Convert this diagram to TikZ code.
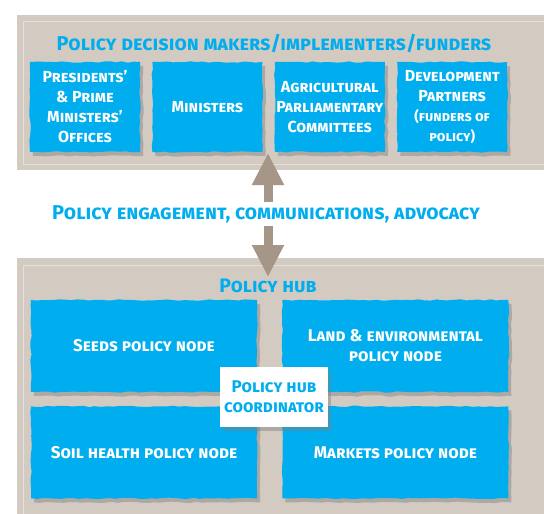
\documentclass[tikz,border=0pt]{standalone}
\usepackage{fontspec}
\setmainfont{Fira Sans}
\usetikzlibrary{positioning,shadows,arrows.meta,decorations.pathmorphing}
\definecolor{hubblue}{HTML}{00AEEF}
\definecolor{panelgray}{HTML}{D3CAC2}
\definecolor{panelline}{HTML}{E6E0DA}
\definecolor{arrowbrown}{HTML}{A69688}
\begin{document}
\begin{tikzpicture}
  [x=1pt,y=-1pt,node distance=12pt,
  panel/.style={fill=panelgray},
  rim/.style={draw=panelline,line width=1pt},
  ragged/.style={decorate,decoration={random steps,segment length=6pt,amplitude=.7pt}},
  actor/.style={fill=hubblue,text=white,minimum width=110pt,minimum height=90pt,
    align=center,inner sep=1pt,ragged,drop shadow={opacity=.45,shadow xshift=3pt,shadow yshift=-4pt},
    font=\bfseries\scshape\fontsize{16}{20}\selectfont},
  hubnode/.style={actor,minimum width=226pt,minimum height=92pt,
    font=\bfseries\scshape\fontsize{17}{20}\selectfont},
  coord/.style={fill=white,text=hubblue,minimum width=108pt,minimum height=60pt,align=center,
    inner sep=1pt,drop shadow={opacity=.45,shadow xshift=3pt,shadow yshift=-4pt},
    font=\bfseries\scshape\fontsize{17}{20}\selectfont},
  heading/.style={text=hubblue,font=\bfseries\scshape\fontsize{20}{22}\selectfont},
  link/.style={arrowbrown,line width=9pt,{Triangle[width=30pt,length=32pt]}-{Triangle[width=30pt,length=32pt]}}]
  \pgfmathsetseed{7}
  \clip (0,0) rectangle (544,514);
  % panels
  \fill[panel] (17,15) rectangle (560,170);
  \draw[rim] (23,21) rectangle (552,164);
  \fill[panel] (17,258) rectangle (560,530);
  \draw[rim] (23,265) rectangle (552,520);
  % decision makers
  \node[heading] (top) at (274,43) {Policy decision makers/implementers/funders};
  \node[actor] (pres) at (85,107) {Presidents’\\\& Prime\\Ministers’\\Offices};
  \node[actor] (mins) [right=of pres] {Ministers};
  \node[actor] (agri) [right=of mins] {Agricultural\\Parliamentary\\Committees};
  \node[actor] (devp) [right=of agri] {Development\\Partners\\{\fontsize{14}{18}\selectfont(funders of}\\{\fontsize{14}{18}\selectfont policy)}};
  % engagement
  \coordinate (uptip) at (268,153);
  \coordinate (downtip) at (268,277);
  \draw[link] (uptip) -- (downtip);
  \node[heading,fill=white,inner ysep=3pt] (talk) at (266,214) {Policy engagement, communications, advocacy};
  % policy hub
  \node[heading,font=\bfseries\scshape\fontsize{19.5}{22}\selectfont] (hub) at (268,286) {Policy hub};
  \node[hubnode] (seeds) at (144,346) {Seeds policy node};
  \node[hubnode] (land) [right=25pt of seeds] {Land \& environmental\\policy node};
  \node[hubnode] (soil) [below=14pt of seeds] {Soil health policy node};
  \node[hubnode] (mark) [below=14pt of land] {Markets policy node};
  \node[coord] (lead) at (274,397) {Policy hub\\coordinator};
\end{tikzpicture}
\end{document}
